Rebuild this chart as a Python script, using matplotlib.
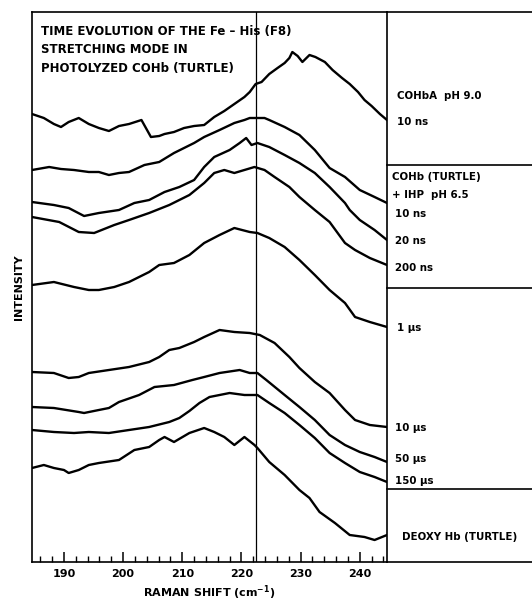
import matplotlib
matplotlib.use('Agg')
import matplotlib.pyplot as plt
from matplotlib.lines import Line2D
from matplotlib.ticker import MultipleLocator

plt.rcParams['font.family'] = ['DejaVu Sans']
plt.rcParams['font.weight'] = 'bold'

# spectra, top to bottom (raman shift in cm-1, intensity in arbitrary units with offsets)
shift_cohba_10ns = [184.6, 186.6, 188.3, 189.5, 190.8, 192.5, 194.2, 195.9, 197.6, 199.3, 201.0, 203.1, 204.7, 206.1, 207.0,
                    208.6, 210.3, 212.0, 213.7, 215.4, 217.1, 218.8, 220.5, 221.4, 222.4, 223.4, 224.7, 226.1, 227.3, 228.1,
                    228.6, 229.5, 230.3, 231.5, 232.5, 234.1, 235.4, 237.0, 238.3, 239.7, 240.8, 242.0, 243.4, 244.6]
int_cohba_10ns = [448, 444, 438, 435, 440, 444, 438, 434, 431, 436, 438, 442, 425, 426, 428,
                  430, 434, 436, 437, 445, 451, 458, 465, 470, 478, 480, 488, 494, 499, 504,
                  510, 506, 500, 507, 505, 500, 492, 484, 478, 470, 462, 456, 448, 442]

shift_ihp_10ns = [184.6, 187.5, 189.5, 191.7, 194.2, 195.9, 197.6, 199.3, 201.0, 203.6, 206.1, 208.6, 210.3, 212.0, 213.7,
                  216.3, 218.8, 220.5, 221.4, 222.7, 223.9, 224.7, 227.3, 229.8, 232.4, 234.9, 237.5, 240.0, 242.5, 244.6]
int_ihp_10ns = [392, 395, 393, 392, 390, 390, 387, 389, 390, 397, 400, 409, 414, 419, 425,
                432, 439, 442, 444, 444, 444, 442, 435, 427, 412, 394, 385, 372, 365, 359]

shift_ihp_20ns = [184.6, 188.3, 190.8, 193.4, 195.9, 199.3, 201.9, 204.4, 207.0, 209.5, 212.0, 213.7, 215.4, 218.0,
                  219.7, 220.8, 221.7, 222.7, 224.7, 227.3, 229.8, 232.4, 234.9, 237.5, 238.3, 240.0, 242.5, 244.6]
int_ihp_20ns = [360, 357, 354, 346, 349, 352, 359, 362, 370, 375, 382, 395, 405, 412,
                419, 424, 417, 419, 415, 407, 399, 389, 375, 359, 352, 342, 332, 322]

shift_ihp_200ns = [184.6, 189.2, 192.5, 195.1, 198.5, 201.0, 204.4, 207.8, 211.2, 213.7, 215.4, 217.1, 218.8,
                   220.5, 222.2, 223.9, 225.6, 228.1, 229.8, 232.4, 234.9, 237.5, 239.2, 241.7, 244.6]
int_ihp_200ns = [345, 340, 330, 329, 337, 342, 349, 357, 367, 379, 389, 392, 389,
                 392, 395, 392, 385, 375, 365, 352, 340, 319, 312, 304, 297]

shift_1us = [184.6, 188.3, 191.7, 194.2, 195.9, 198.5, 201.0, 204.4, 206.1, 208.6, 211.2, 213.7, 216.3,
             218.8, 221.4, 222.7, 224.7, 227.3, 229.8, 232.4, 234.9, 237.5, 239.2, 241.7, 244.6]
int_1us = [277, 280, 275, 272, 272, 275, 280, 290, 297, 299, 307, 319, 327,
           334, 330, 329, 324, 315, 302, 287, 272, 259, 245, 240, 235]

shift_10us = [184.6, 188.3, 190.8, 192.5, 194.2, 197.6, 201.0, 204.4, 206.1, 207.8, 209.5, 212.0, 213.7,
              216.3, 218.8, 221.4, 223.1, 225.6, 228.1, 229.8, 232.4, 234.9, 237.5, 239.2, 241.7, 244.6]
int_10us = [190, 189, 184, 185, 189, 192, 195, 200, 205, 212, 214, 220, 225,
            232, 230, 229, 227, 219, 205, 194, 180, 169, 152, 142, 137, 135]

shift_50us = [184.6, 188.3, 192.5, 193.4, 195.9, 197.6, 199.3, 202.7, 205.3, 208.6, 211.7, 213.7, 216.3,
              219.7, 221.4, 222.7, 224.2, 227.3, 229.8, 232.4, 234.9, 237.5, 240.0, 242.5, 244.6]
int_50us = [155, 154, 150, 149, 152, 154, 160, 167, 175, 177, 182, 185, 189,
            192, 189, 189, 182, 167, 155, 142, 127, 117, 110, 105, 100]

shift_150us = [184.6, 188.3, 191.7, 194.2, 197.6, 201.0, 204.4, 207.8, 209.5, 211.2, 212.9, 214.6,
               218.0, 220.5, 222.7, 224.7, 227.3, 229.8, 232.4, 234.9, 237.5, 240.0, 242.5, 244.6]
int_150us = [132, 130, 129, 130, 129, 132, 135, 140, 144, 151, 159, 165,
             169, 167, 167, 159, 149, 137, 124, 109, 99, 90, 85, 80]

shift_deoxy = [184.6, 186.6, 188.3, 190.0, 190.8, 192.5, 194.2, 195.9, 199.3, 201.9, 204.4, 206.1, 207.0, 208.6,
               211.2, 213.7, 215.4, 217.1, 218.8, 220.5, 222.2, 222.7, 224.7, 227.3, 229.8, 231.5, 233.2, 235.8,
               238.3, 240.8, 242.5, 244.6]
int_deoxy = [94, 97, 94, 92, 89, 92, 97, 99, 102, 112, 115, 122, 125, 120,
             129, 134, 130, 125, 117, 125, 117, 114, 100, 87, 72, 64, 50, 39,
             27, 25, 22, 27]

spectra = [(shift_cohba_10ns, int_cohba_10ns), (shift_ihp_10ns, int_ihp_10ns), (shift_ihp_20ns, int_ihp_20ns),
           (shift_ihp_200ns, int_ihp_200ns), (shift_1us, int_1us), (shift_10us, int_10us),
           (shift_50us, int_50us), (shift_150us, int_150us), (shift_deoxy, int_deoxy)]

marker_line = 222.4

# right hand labels: (text, x px, y px)
labels = [('COHbA  pH 9.0', 397, 96), ('10 ns', 397, 122),
          ('COHb (TURTLE)', 392, 177), ('+ IHP  pH 6.5', 392, 195), ('10 ns', 395, 214),
          ('20 ns', 395, 241), ('200 ns', 395, 268),
          ('1 \u03bcs', 397, 328), ('10 \u03bcs', 395, 428), ('50 \u03bcs', 395, 459), ('150 \u03bcs', 395, 481),
          ('DEOXY Hb (TURTLE)', 402, 537)]
dividers = [165, 288, 489]

W, H = 532, 605
fig = plt.figure(figsize=(W / 100, H / 100), dpi=100)
ax = fig.add_axes([32 / W, 1 - 562 / H, (387 - 32) / W, (562 - 12) / H])

for s, i in spectra:
    ax.plot(s, i, color='black', lw=1.7, solid_joinstyle='round')

ax.axvline(marker_line, color='black', lw=0.9)
ax.set_xlim(184.6, 244.6)
ax.set_ylim(0, 550)
ax.set_yticks([])
ax.xaxis.set_major_locator(MultipleLocator(10))
ax.xaxis.set_minor_locator(MultipleLocator(2))
ax.tick_params(axis='x', which='major', direction='in', length=7, width=1.1, labelsize=8, pad=5)
ax.tick_params(axis='x', which='minor', direction='in', length=4.5, width=1.0)
for sp in ax.spines.values():
    sp.set_linewidth(1.2)

ax.set_xlabel('RAMAN SHIFT (cm$^{-1}$)', fontsize=8, fontweight='bold', labelpad=3)
ax.set_ylabel('INTENSITY', fontsize=8, fontweight='bold', labelpad=6)

ax.text(0.025, 0.977, 'TIME EVOLUTION OF THE Fe \u2013 His (F8)\nSTRETCHING MODE IN\nPHOTOLYZED COHb (TURTLE)',
        transform=ax.transAxes, ha='left', va='top', fontsize=8.5, fontweight='bold', linespacing=1.55)

# right panel boxes
for yp in [12] + dividers + [562]:
    fig.add_artist(Line2D([387 / W, 1.0], [1 - yp / H, 1 - yp / H], transform=fig.transFigure,
                          color='black', lw=1.2))

for t, xp, yp in labels:
    fig.text(xp / W, 1 - yp / H, t, ha='left', va='center', fontsize=8.2, fontweight='bold',
             fontstretch='condensed')

fig.savefig('out.png', dpi=100)
